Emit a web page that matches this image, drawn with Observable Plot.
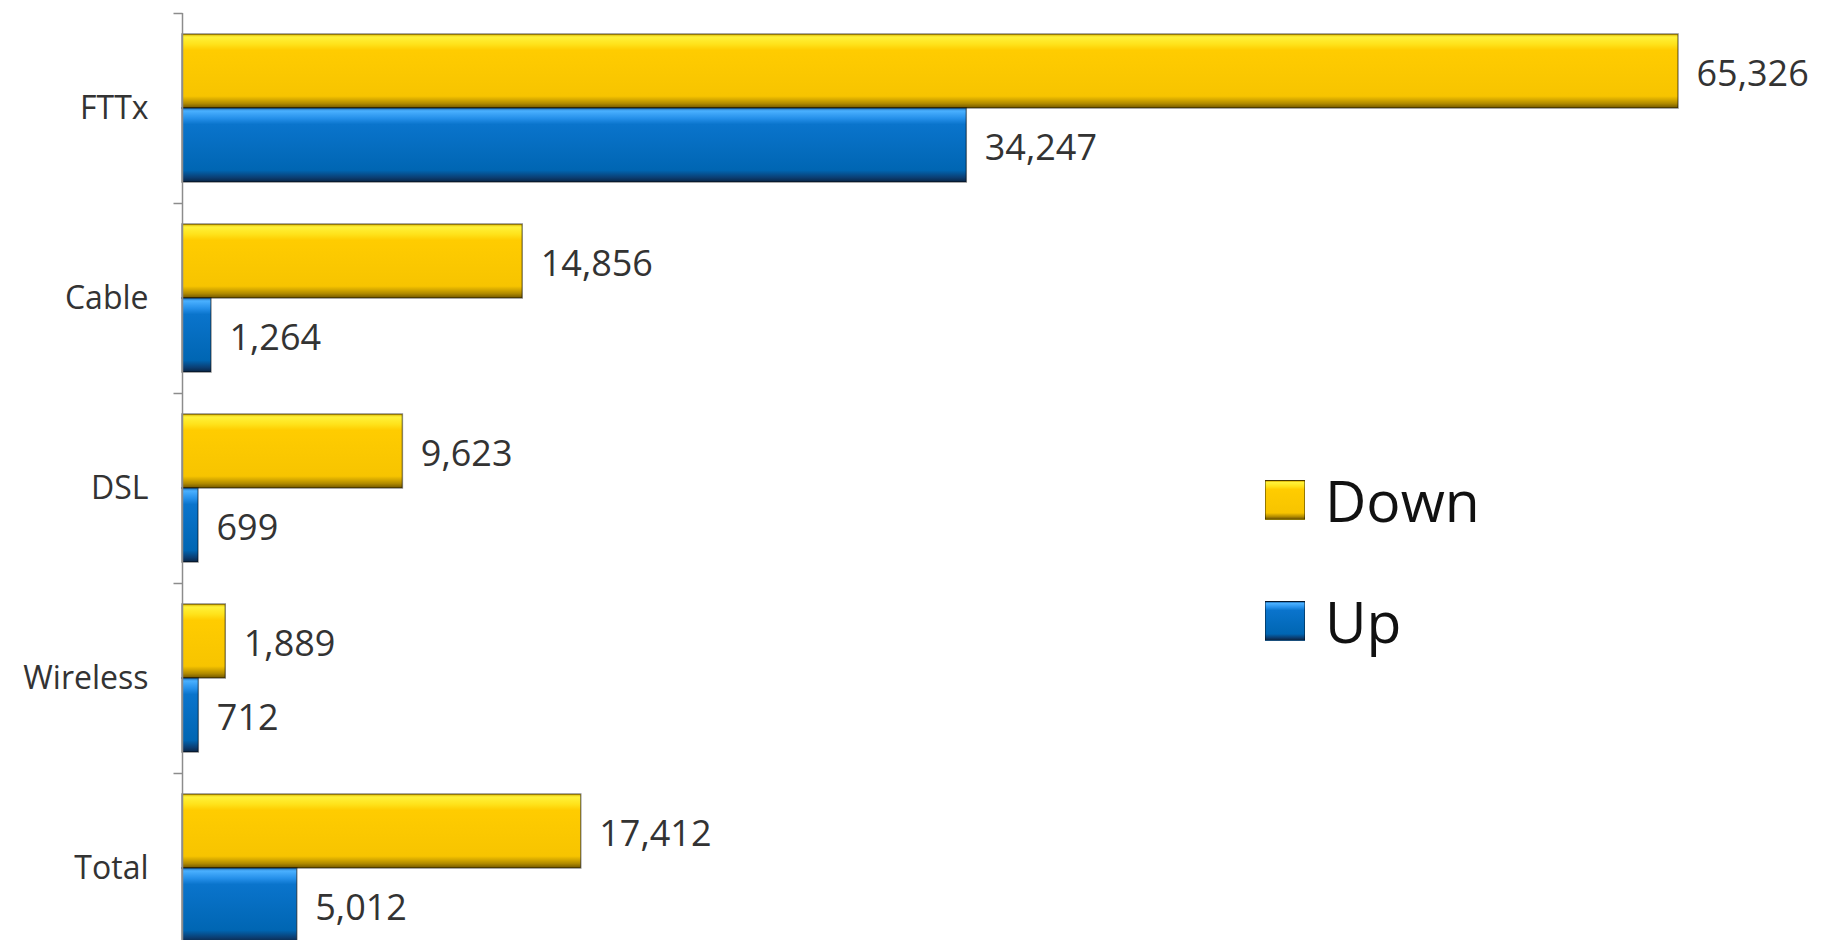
<!DOCTYPE html>
<html>
<head>
<meta charset="utf-8">
<script src="https://cdn.jsdelivr.net/npm/d3@7"></script>
<script src="https://cdn.jsdelivr.net/npm/@observablehq/plot@0.6"></script>
<style>
  html, body { margin: 0; padding: 0; background: #ffffff; overflow: hidden; }
  #wrap { position: relative; width: 1827px; height: 940px; overflow: hidden; }
  #legend { position: absolute; left: 1265px; top: 470px; font-family: "Open Sans", sans-serif; color: #111; }
  .row { display: flex; align-items: center; height: 60px; margin-bottom: 61px; }
  .sw { width: 40px; height: 40px; box-sizing: border-box; margin-right: 20px; }
  .lab { font-size: 57px; line-height: 60px; }
</style>
</head>
<body>
<div id="wrap"></div>
<script>
const categories = ["FTTx", "Cable", "DSL", "Wireless", "Total"];
const series = ["Down", "Up"];
const downValues = [65326, 14856, 9623, 1889, 17412];
const upValues = [34247, 1264, 699, 712, 5012];

const data = [];
categories.forEach((c, i) => {
  data.push({category: c, series: "Down", value: downValues[i]});
  data.push({category: c, series: "Up", value: upValues[i]});
});

const tickSymbol = {
  draw(context) { context.moveTo(-9, 0); context.lineTo(0, 0); }
};

const svg = Plot.plot({
  width: 1827,
  height: 963,
  marginLeft: 182,
  marginRight: 149,
  marginTop: 13,
  marginBottom: 0,
  style: {fontFamily: "Open Sans, sans-serif", fontSize: "32px", background: "#ffffff", color: "#333"},
  x: {domain: [0, 65326], axis: null},
  y: {domain: series, axis: null, paddingInner: 0, paddingOuter: 0.27},
  fy: {domain: categories, padding: 0, axis: "left", label: null, tickSize: 0, tickPadding: 34},
  color: {domain: series, range: ["url(#gDown)", "url(#gUp)"]},
  marks: [
    Plot.barX(data, {x: "value", y: "series", fy: "category", fill: "series",
      stroke: "rgba(0,0,0,0.45)", strokeWidth: 1.5}),
    Plot.text(data, {x: "value", y: "series", fy: "category", text: d => d3.format(",")(d.value),
      textAnchor: "start", dx: 18, dy: 3, fontSize: 36, fill: "#333"}),
    Plot.ruleX([0], {stroke: "#8c8c8c", strokeWidth: 1.5}),
    Plot.dot([0], {x: 0, frameAnchor: "top", symbol: tickSymbol, stroke: "#8c8c8c", strokeWidth: 1.5, fill: "none"})
  ]
});

const ns = "http://www.w3.org/2000/svg";
const defs = document.createElementNS(ns, "defs");
function grad(id, stops) {
  const g = document.createElementNS(ns, "linearGradient");
  g.setAttribute("id", id);
  g.setAttribute("x1", "0"); g.setAttribute("y1", "0");
  g.setAttribute("x2", "0"); g.setAttribute("y2", "1");
  stops.forEach(([o, c]) => {
    const s = document.createElementNS(ns, "stop");
    s.setAttribute("offset", o);
    s.setAttribute("stop-color", c);
    g.appendChild(s);
  });
  defs.appendChild(g);
}
const downStops = [[0, "#d9ad00"], [0.04, "#fff23a"], [0.14, "#ffe21a"], [0.22, "#ffcc00"], [0.84, "#f7c400"], [0.94, "#b08a00"], [1, "#6f5500"]];
const upStops = [[0, "#1f6fb8"], [0.04, "#4ab0ff"], [0.14, "#2590ea"], [0.22, "#0a74cc"], [0.84, "#0066b3"], [0.94, "#0b3e72"], [1, "#0a2545"]];
grad("gDown", downStops);
grad("gUp", upStops);
svg.insertBefore(defs, svg.firstChild);

const wrap = document.getElementById("wrap");
wrap.appendChild(svg);

const legend = document.createElement("div");
legend.id = "legend";
const cssGrad = stops => "linear-gradient(to bottom, " + stops.map(([o, c]) => c + " " + (o * 100) + "%").join(", ") + ")";
series.forEach(s => {
  const row = document.createElement("div");
  row.className = "row";
  const sw = document.createElement("div");
  sw.className = "sw";
  sw.style.background = cssGrad(s === "Down" ? downStops : upStops);
  sw.style.border = "1.5px solid rgba(0,0,0,0.4)";
  const lab = document.createElement("div");
  lab.className = "lab";
  lab.textContent = s;
  row.appendChild(sw);
  row.appendChild(lab);
  legend.appendChild(row);
});
wrap.appendChild(legend);
</script>
</body>
</html>
